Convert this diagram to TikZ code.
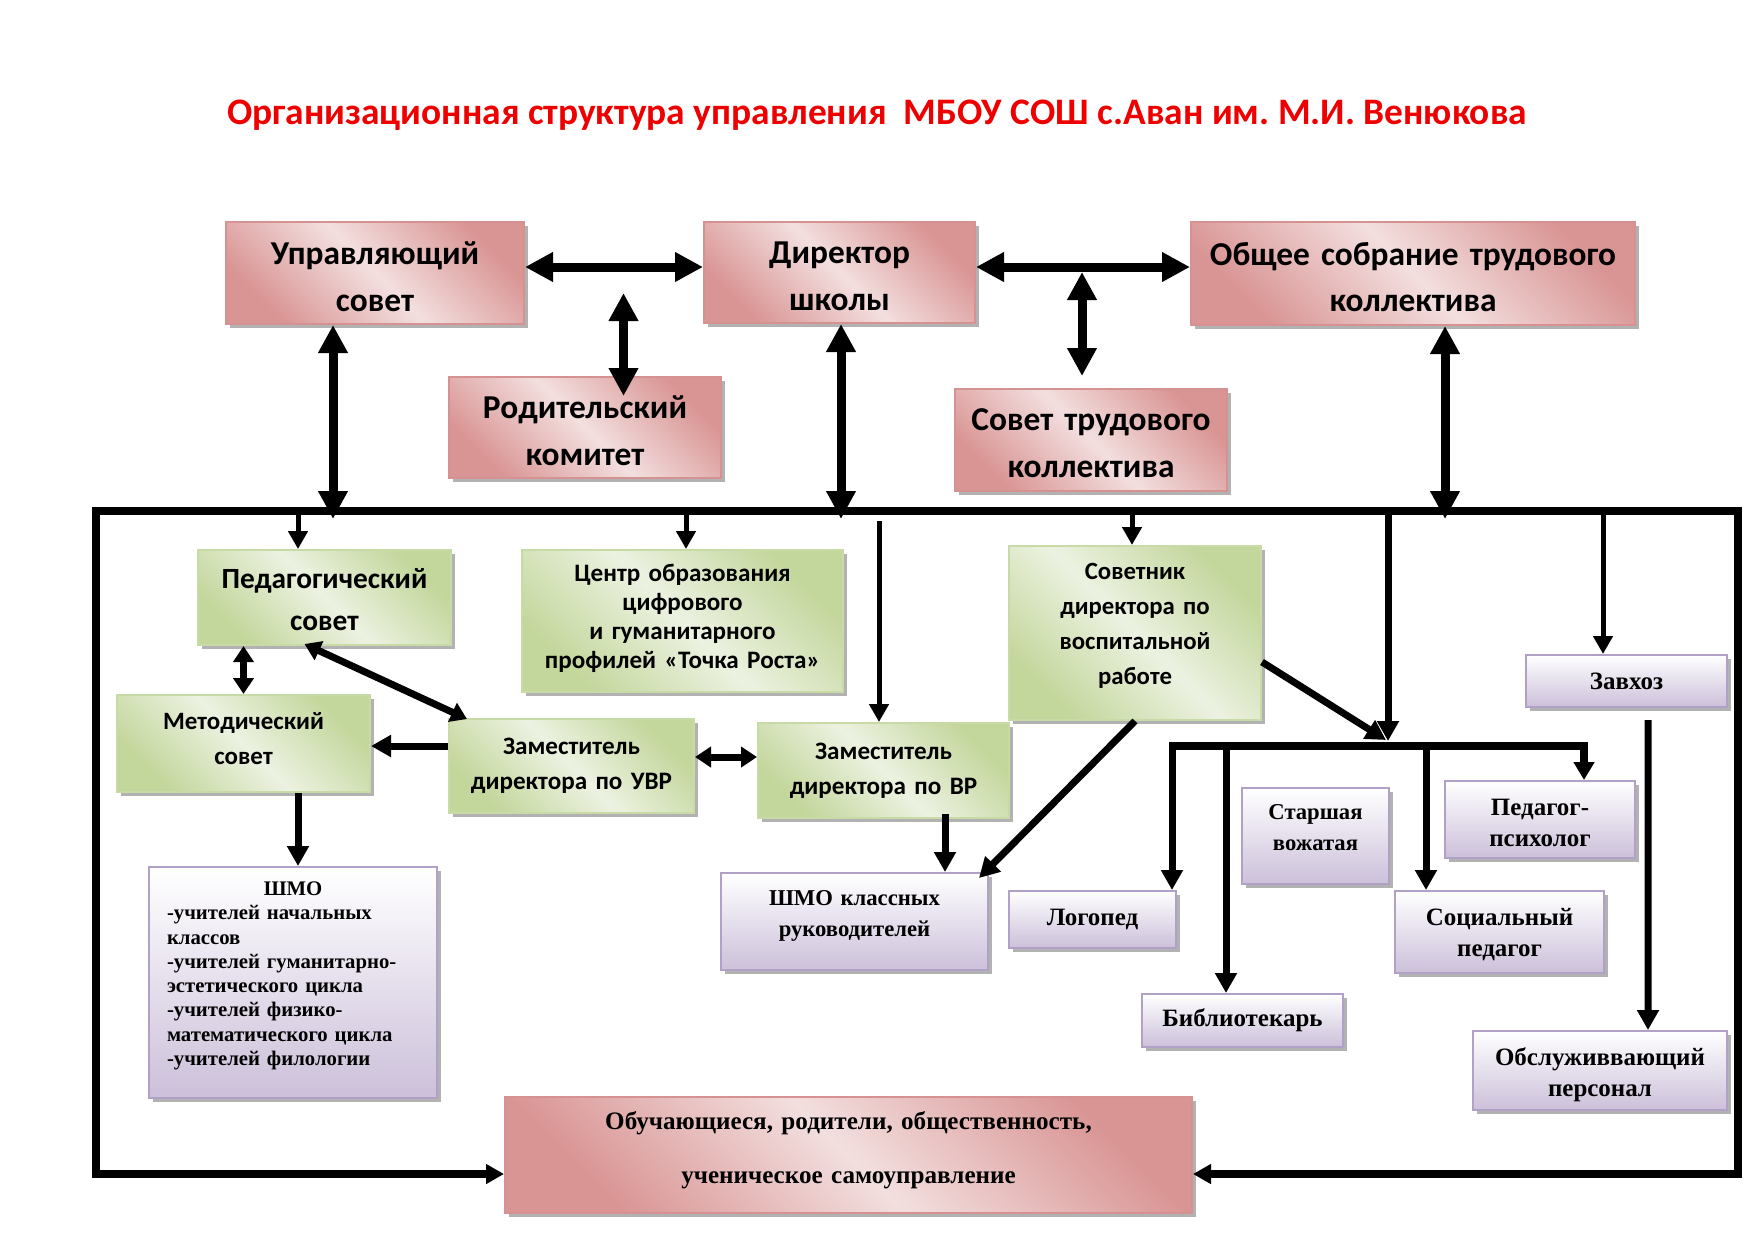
\documentclass[tikz,border=0pt]{standalone}
\usepackage{fontspec}
\setmainfont{Liberation Serif}
\newfontfamily\calib{Carlito}
\usetikzlibrary{arrows.meta,shadows,calc}
\definecolor{rosedark}{RGB}{217,149,148}
\definecolor{roselight}{RGB}{243,223,223}
\definecolor{roseedge}{RGB}{214,146,146}
\definecolor{greendark}{RGB}{195,214,155}
\definecolor{greenlight}{RGB}{236,242,225}
\definecolor{greenedge}{RGB}{200,218,165}
\definecolor{lilac}{RGB}{204,192,218}
\definecolor{lilacedge}{RGB}{178,161,199}
\definecolor{titlered}{RGB}{238,0,0}
\newcommand{\fsz}[2]{\fontsize{#1}{#2}\selectfont}
\newcommand{\liftend}[1]{\endgraf\vspace{#1}\hrule height 0pt}

\begin{document}
\begin{tikzpicture}[x=0.2mm, y=-0.2mm,
    wh/.style 2 args={minimum width=#1*0.2mm, minimum height=#2*0.2mm, text width=(#1-12)*0.2mm},
    lift/.style={execute at end node={\liftend{#1}}},
    sansfs/.style 2 args={font=\calib\bfseries\fsz{#1}{#2}},
    seriffs/.style 2 args={font=\bfseries\fsz{#1}{#2}},
    boxshadow/.style={drop shadow={shadow xshift=0.7mm, shadow yshift=-0.7mm, fill=black!60, opacity=0.5}},
    rosebox/.style={boxshadow, draw=roseedge, line width=0.4mm, top color=rosedark, bottom color=rosedark, middle color=roselight, shading angle=-45, inner sep=0pt, align=center, sansfs={19}{26.6}},
    greenbox/.style={boxshadow, draw=greenedge, line width=0.4mm, top color=greendark, bottom color=greendark, middle color=greenlight, shading angle=-45, inner sep=0pt, align=center},
    lilacbox/.style={boxshadow, draw=lilacedge, line width=0.4mm, top color=white, bottom color=lilac, inner sep=0pt, align=center},
    bigarrow/.style={line width=1.8mm, {Triangle[length=5.6mm,width=5.6mm]}-{Triangle[length=5.6mm,width=5.6mm]}},
    midarrow/.style={line width=1.4mm, -{Triangle[length=4mm,width=4.2mm]}},
    dblarrow/.style={line width=1.4mm, {Triangle[length=3.2mm,width=4mm]}-{Triangle[length=3.2mm,width=4mm]}},
    thinarrow/.style={line width=1mm, -{Triangle[length=3.6mm,width=3.8mm]}},
    frameline/.style={line width=1.55mm, line join=miter, -{Triangle[length=3.6mm,width=3.8mm]}}]

  \useasboundingbox (0,0) rectangle (1755,1241);

  \node[sansfs={21.3}{25}, text=titlered] (title) at (877,115) {Организационная структура управления\ \ МБОУ СОШ с.Аван им.\ М.И. Венюкова};

  \node[rosebox, wh={298}{102}, lift=-4pt] (upr) at (375,273) {Управляющий\\совет};
  \node[rosebox, wh={271}{101}, lift=-4pt] (dir) at (839.5,272.5) {Директор\\школы};
  \node[rosebox, wh={444}{103}, lift=-4pt] (ros) at (1413,273.5) {Общее собрание трудового\\коллектива};
  \node[rosebox, wh={272}{101}, lift=-4pt] (rod) at (585,427.5) {Родительский\\комитет};
  \node[rosebox, wh={272}{102}, lift=-4pt] (stk) at (1091,440) {Совет трудового\\коллектива};

  \node[greenbox, wh={253}{95}, sansfs={16.7}{23.6}, lift=-2.5pt] (ped) at (324.5,597.5) {Педагогический\\совет};
  \node[greenbox, wh={321}{142}, sansfs={14.3}{16.5}, lift=3pt] (cen) at (682.5,621) {Центр образования\\цифрового\\и гуманитарного\\профилей «Точка Роста»};
  \node[greenbox, wh={252}{174}, sansfs={14.1}{20}, lift=8pt] (sov) at (1135,633) {Советник\\директора по\\воспитальной\\работе};
  \node[greenbox, wh={253}{97}, sansfs={14.2}{20.4}, lift=5.7pt] (met) at (243.5,743.5) {Методический\\совет};
  \node[greenbox, wh={245}{94}, sansfs={14.3}{20}] (uvr) at (571.5,766) {Заместитель\\директора по УВР};
  \node[greenbox, wh={251}{95}, sansfs={14.3}{20}] (vr) at (883.5,770.5) {Заместитель\\директора по ВР};

  \node[lilacbox, wh={288}{231}, seriffs={11.8}{13.8}, text width=50.4mm, align=left, lift=7.6pt] (shmo) at (293,982.5)
    {\centering ШМО\par\raggedright -учителей начальных\\классов\\-учителей гуманитарно-\\эстетического цикла\\-учителей физико-\\математического цикла\\-учителей филологии};
  \foreach \n/\cx/\cy/\w/\h/\fs/\lf/\t in {
      shmok/854.5/921.5/267/97/12.9/6.4pt/{ШМО классных\\руководителей},
      vozh/1315.5/836/147/96/12.9/9.6pt/{Старшая\\вожатая},
      log/1092.5/919.5/167/57/14.2/0pt/{Логопед},
      bib/1242.5/1020.5/201/53/14.2/0pt/{Библиотекарь},
      psy/1540/819.5/190/77/14.2/-3.8pt/{Педагог-\\психолог},
      soc/1499.5/932/209/82/14.2/-3.2pt/{Социальный\\педагог},
      zav/1626.5/681/201/52/14.2/0pt/{Завхоз},
      obs/1600/1070.5/254/79/14.2/-5pt/{Обслуживвающий\\персонал}}
    \node[lilacbox, wh={\w}{\h}, seriffs={\fs}{17.5}, lift=\lf] (\n) at (\cx,\cy) {\t};

  \node[rosebox, wh={687}{116}, seriffs={14.3}{30.7}, lift=5pt] (obu) at (848.5,1155) {Обучающиеся, родители, общественность,\\ученическое самоуправление};

  \draw[bigarrow] ($(upr.east)+(0,-6)$) -- ($(dir.west)+(0,-5.5)$);
  \draw[bigarrow] ($(dir.east)+(0,-5.5)$) -- ($(ros.west)+(0,-6.5)$);
  \coordinate (rodup) at (623.5,293);
  \draw[bigarrow] (rodup) -- ($(rod.north -| rodup)+(0,20)$);
  \coordinate (stkup) at (1082,272);
  \draw[bigarrow] (stkup) -- ($(stk.north -| stkup)+(0,-12)$);

  \coordinate (ftl) at (96,511);
  \coordinate (ftr) at (1738,511);
  \coordinate (fbl) at (96,1174);
  \coordinate (fbr) at (1738,1174);
  \draw[frameline] (ftr) -- (ftl) -- (fbl) -- (fbl -| obu.west);
  \draw[frameline] (ftl) -- (ftr) -- (fbr) -- (fbr -| obu.east);

  \foreach \xx/\src in {333/upr,841/dir,1445/ros}{
    \coordinate (hit) at (\xx,519);
    \draw[bigarrow] (hit |- \src.south) -- (hit);
  }
  \foreach \xx/\tgt in {298/ped,686/cen,1132/sov,1603/zav}{
    \coordinate (drop) at (\xx,511);
    \draw[thinarrow] (drop) -- (drop |- \tgt.north);
  }
  \coordinate (vrtop) at (879,521);
  \draw[thinarrow] (vrtop) -- (vrtop |- vr.north);

  \coordinate (busL) at (1169,746);
  \coordinate (busR) at (1584,746);
  \coordinate (busT) at (1388,746);
  \draw[line width=1.6mm, -{Triangle[length=3.6mm,width=4mm]}] (busL) -- (busR) -- (busR |- psy.north);
  \draw[midarrow] (busT |- ftl) -- ($(busT)+(0,-5)$);
  \draw[midarrow] ($(sov.east)+(0,29)$) -- ($(busT)+(-2,-6)$);
  \foreach \xx/\tgt in {1172/log,1226/bib,1426/soc}{
    \coordinate (drop) at (\xx,746);
    \draw[midarrow] (drop) -- (drop |- \tgt.north);
  }

  \draw[midarrow] (sov.south) -- ($(shmok.north east)+(-10,6)$);
  \draw[midarrow] ($(zav.south)+(21.5,12)$) -- ($(obs.north)+(48,0)$);
  \draw[dblarrow] (met.north |- ped.south) -- (met.north);
  \draw[dblarrow] ($(ped.south)+(-20,-2)$) -- ($(uvr.north west)+(19,1)$);
  \coordinate (uvrL) at ($(uvr.west)+(0,-20)$);
  \draw[midarrow] (uvrL) -- (uvrL -| met.east);
  \draw[dblarrow] ($(uvr.east)+(0,-9)$) -- ($(vr.west)+(0,-13.5)$);
  \coordinate (metdn) at ($(shmo.north)+(5,0)$);
  \draw[midarrow] (metdn |- met.south) -- (metdn);
  \draw[midarrow] ($(vr.south)+(61.5,-5)$) -- ($(shmok.north)+(90.5,0)$);
\end{tikzpicture}
\end{document}
